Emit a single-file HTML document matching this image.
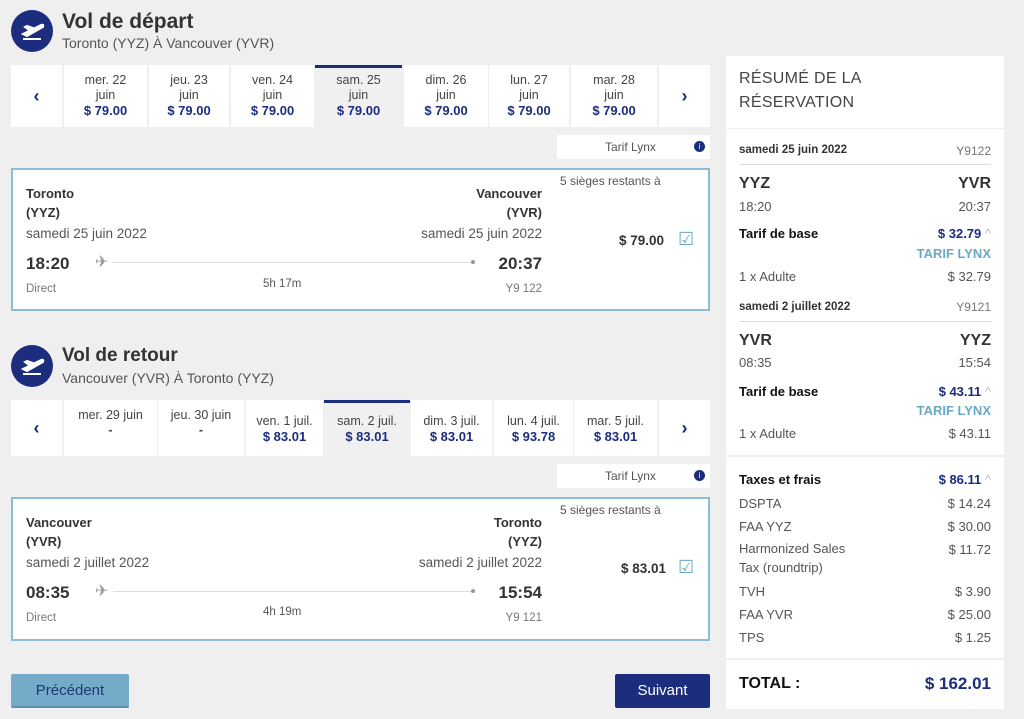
<!DOCTYPE html>
<html><head><meta charset="utf-8"><style>
*{margin:0;padding:0;box-sizing:border-box}
body{width:1024px;height:719px;background:#efefef;font-family:"Liberation Sans",sans-serif;color:#333;position:relative;overflow:hidden}
.a{position:absolute;white-space:nowrap}
.c{position:absolute;background:#fff;text-align:center;font-size:12.5px;color:#444;line-height:15px}
.c.s{background:#f0f0f0;border-top:3px solid #1c2d7e}
.p{color:#1c2d7e;font-weight:bold;font-size:13px}
.nav{position:absolute;background:#fff;color:#1c2d7e;font-size:18px;font-weight:bold;text-align:center}
.card{position:absolute;left:11px;width:699px;background:#fff;border:2px solid #8cbcd6}
.r{text-align:right}
.b{font-weight:bold}
.ic{position:absolute;width:42px;height:42px;border-radius:50%;background:#1c2d7e}
.n{color:#1c2d7e}
.lb{color:#6aa8c8}
.g{color:#555}
</style></head><body>

<div class="ic" style="left:11px;top:10px"><svg width="42" height="42" viewBox="0 0 42 42"><path d="M12 24 L30 15 Q33 14 32 17 L16 26 Z M18 20 L14 17 L16 16 L22 18 Z M12 29 H30" stroke="#fff" stroke-width="2" fill="#fff"/></svg></div>
<div class="a b" style="left:62px;top:10px;font-size:21px;color:#333">Vol de départ</div>
<div class="a" style="left:62px;top:35px;font-size:14px;color:#555">Toronto (YYZ) À Vancouver (YVR)</div>

<div class="nav" style="left:11px;top:65px;width:51px;height:62px;line-height:62px">‹</div>
<div class="c" style="left:64px;top:65px;width:83px;height:62px;padding-top:8px">mer. 22<br>juin<br><span class="p">$ 79.00</span></div>
<div class="c" style="left:149px;top:65px;width:80px;height:62px;padding-top:8px">jeu. 23<br>juin<br><span class="p">$ 79.00</span></div>
<div class="c" style="left:231px;top:65px;width:83px;height:62px;padding-top:8px">ven. 24<br>juin<br><span class="p">$ 79.00</span></div>
<div class="c s" style="left:315px;top:65px;width:87px;height:62px;padding-top:5px">sam. 25<br>juin<br><span class="p">$ 79.00</span></div>
<div class="c" style="left:404px;top:65px;width:84px;height:62px;padding-top:8px">dim. 26<br>juin<br><span class="p">$ 79.00</span></div>
<div class="c" style="left:489px;top:65px;width:80px;height:62px;padding-top:8px">lun. 27<br>juin<br><span class="p">$ 79.00</span></div>
<div class="c" style="left:571px;top:65px;width:86px;height:62px;padding-top:8px">mar. 28<br>juin<br><span class="p">$ 79.00</span></div>
<div class="nav" style="left:659px;top:65px;width:51px;height:62px;line-height:62px">›</div>

<div class="a" style="left:557px;top:135px;width:153px;height:24px;background:#fff;font-size:12px;color:#555;line-height:24px;padding-left:48px">Tarif Lynx<span style="position:absolute;right:5px;top:6px;width:11px;height:11px;border-radius:50%;background:#1c2d7e;color:#fff;font-size:8px;line-height:11px;text-align:center">i</span></div>

<div class="card" style="top:168px;height:143px">
 <div class="a b" style="left:13px;top:14px;font-size:13px;line-height:19px">Toronto<br>(YYZ)</div>
 <div class="a b r" style="right:166px;top:14px;font-size:13px;line-height:19px">Vancouver<br>(YVR)</div>
 <div class="a g" style="left:13px;top:56px;font-size:13.5px">samedi 25 juin 2022</div>
 <div class="a g r" style="right:166px;top:56px;font-size:13.5px">samedi 25 juin 2022</div>
 <div class="a b" style="left:13px;top:84px;font-size:17px">18:20</div>
 <div class="a b r" style="right:166px;top:84px;font-size:17px">20:37</div>
 <div class="a" style="left:82px;top:82px;font-size:16px;color:#999">✈</div>
 <div class="a" style="left:100px;top:92px;width:360px;height:1px;background:#ddd"></div>
 <div class="a" style="left:458px;top:90px;width:4px;height:4px;border-radius:50%;background:#999"></div>
 <div class="a g" style="left:250px;top:108px;font-size:11.5px">5h 17m</div>
 <div class="a g" style="left:13px;top:113px;font-size:11.5px;color:#777">Direct</div>
 <div class="a r" style="right:166px;top:113px;font-size:11.5px;color:#777">Y9 122</div>
 <div class="a g" style="left:547px;top:4px;font-size:12px">5 sièges restants à</div>
 <div class="a b" style="left:606px;top:63px;font-size:13.5px">$ 79.00</div>
 <div class="a lb" style="left:665px;top:59px;font-size:18px">☑</div>
</div>

<div class="ic" style="left:11px;top:345px"><svg width="42" height="42" viewBox="0 0 42 42"><path d="M12 24 L30 15 Q33 14 32 17 L16 26 Z M18 20 L14 17 L16 16 L22 18 Z M12 29 H30" stroke="#fff" stroke-width="2" fill="#fff"/></svg></div>
<div class="a b" style="left:62px;top:345px;font-size:19px;color:#333">Vol de retour</div>
<div class="a" style="left:62px;top:370px;font-size:14px;color:#555">Vancouver (YVR) À Toronto (YYZ)</div>

<div class="nav" style="left:11px;top:400px;width:51px;height:56px;line-height:56px">‹</div>
<div class="c" style="left:64px;top:400px;width:93px;height:56px;padding-top:8px">mer. 29 juin<br><span class="b">-</span></div>
<div class="c" style="left:158px;top:400px;width:86px;height:56px;padding-top:8px">jeu. 30 juin<br><span class="b">-</span></div>
<div class="c" style="left:246px;top:400px;width:77px;height:56px;padding-top:14px">ven. 1 juil.<br><span class="p">$ 83.01</span></div>
<div class="c s" style="left:324px;top:400px;width:86px;height:56px;padding-top:11px">sam. 2 juil.<br><span class="p">$ 83.01</span></div>
<div class="c" style="left:411px;top:400px;width:81px;height:56px;padding-top:14px">dim. 3 juil.<br><span class="p">$ 83.01</span></div>
<div class="c" style="left:494px;top:400px;width:79px;height:56px;padding-top:14px">lun. 4 juil.<br><span class="p">$ 93.78</span></div>
<div class="c" style="left:574px;top:400px;width:83px;height:56px;padding-top:14px">mar. 5 juil.<br><span class="p">$ 83.01</span></div>
<div class="nav" style="left:659px;top:400px;width:51px;height:56px;line-height:56px">›</div>

<div class="a" style="left:557px;top:464px;width:153px;height:24px;background:#fff;font-size:12px;color:#555;line-height:24px;padding-left:48px">Tarif Lynx<span style="position:absolute;right:5px;top:6px;width:11px;height:11px;border-radius:50%;background:#1c2d7e;color:#fff;font-size:8px;line-height:11px;text-align:center">i</span></div>

<div class="card" style="top:497px;height:144px">
 <div class="a b" style="left:13px;top:14px;font-size:13px;line-height:19px">Vancouver<br>(YVR)</div>
 <div class="a b r" style="right:166px;top:14px;font-size:13px;line-height:19px">Toronto<br>(YYZ)</div>
 <div class="a g" style="left:13px;top:56px;font-size:13.5px">samedi 2 juillet 2022</div>
 <div class="a g r" style="right:166px;top:56px;font-size:13.5px">samedi 2 juillet 2022</div>
 <div class="a b" style="left:13px;top:84px;font-size:17px">08:35</div>
 <div class="a b r" style="right:166px;top:84px;font-size:17px">15:54</div>
 <div class="a" style="left:82px;top:82px;font-size:16px;color:#999">✈</div>
 <div class="a" style="left:100px;top:92px;width:360px;height:1px;background:#ddd"></div>
 <div class="a" style="left:458px;top:90px;width:4px;height:4px;border-radius:50%;background:#999"></div>
 <div class="a g" style="left:250px;top:107px;font-size:11.5px">4h 19m</div>
 <div class="a" style="left:13px;top:113px;font-size:11.5px;color:#777">Direct</div>
 <div class="a r" style="right:166px;top:113px;font-size:11.5px;color:#777">Y9 121</div>
 <div class="a g" style="left:547px;top:4px;font-size:12px">5 sièges restants à</div>
 <div class="a b" style="left:608px;top:62px;font-size:13.5px">$ 83.01</div>
 <div class="a lb" style="left:665px;top:58px;font-size:18px">☑</div>
</div>

<div class="a" style="left:11px;top:674px;width:118px;height:34px;background:#75abc9;border-bottom:2px solid #5c8fae;border-radius:2px;color:#1c3a78;font-size:15px;text-align:center;line-height:33px">Précédent</div>
<div class="a" style="left:615px;top:674px;width:95px;height:34px;background:#1c2d7e;border-radius:2px;color:#fff;font-size:15px;text-align:center;line-height:34px">Suivant</div>

<div class="a" style="left:726px;top:56px;width:278px;height:72px;background:#fff"></div>
<div class="a" style="left:739px;top:67px;font-size:16px;color:#444;line-height:24px;letter-spacing:0.3px">RÉSUMÉ DE LA<br>RÉSERVATION</div>
<div class="a" style="left:726px;top:129px;width:278px;height:326px;background:#fff"></div>
<div class="a" style="left:726px;top:457px;width:278px;height:201px;background:#fff"></div>
<div class="a" style="left:726px;top:660px;width:278px;height:49px;background:#fff"></div>

<div class="a b" style="left:739px;top:144px;font-size:11.5px">samedi 25 juin 2022</div>
<div class="a" style="right:33px;top:144px;font-size:12px;color:#777">Y9122</div>
<div class="a" style="left:739px;top:164px;width:252px;height:1px;background:#ddd"></div>
<div class="a b" style="left:739px;top:175px;font-size:16px">YYZ</div>
<div class="a b" style="right:33px;top:175px;font-size:16px">YVR</div>
<div class="a g" style="left:739px;top:199px;font-size:13px">18:20</div>
<div class="a g" style="right:33px;top:199px;font-size:13px">20:37</div>
<div class="a b" style="left:739px;top:226px;font-size:13px;color:#111">Tarif de base</div>
<div class="a b n" style="right:33px;top:226px;font-size:13px">$ 32.79 <span style="color:#bbb;font-weight:normal">^</span></div>
<div class="a b lb" style="right:33px;top:246px;font-size:13px">TARIF LYNX</div>
<div class="a g" style="left:739px;top:269px;font-size:13px">1 x Adulte</div>
<div class="a g" style="right:33px;top:269px;font-size:13px">$ 32.79</div>

<div class="a b" style="left:739px;top:301px;font-size:11.5px">samedi 2 juillet 2022</div>
<div class="a" style="right:33px;top:300px;font-size:12px;color:#777">Y9121</div>
<div class="a" style="left:739px;top:321px;width:252px;height:1px;background:#ddd"></div>
<div class="a b" style="left:739px;top:332px;font-size:16px">YVR</div>
<div class="a b" style="right:33px;top:332px;font-size:16px">YYZ</div>
<div class="a g" style="left:739px;top:355px;font-size:13px">08:35</div>
<div class="a g" style="right:33px;top:355px;font-size:13px">15:54</div>
<div class="a b" style="left:739px;top:384px;font-size:13px;color:#111">Tarif de base</div>
<div class="a b n" style="right:33px;top:384px;font-size:13px">$ 43.11 <span style="color:#bbb;font-weight:normal">^</span></div>
<div class="a b lb" style="right:33px;top:403px;font-size:13px">TARIF LYNX</div>
<div class="a g" style="left:739px;top:426px;font-size:13px">1 x Adulte</div>
<div class="a g" style="right:33px;top:426px;font-size:13px">$ 43.11</div>

<div class="a b" style="left:739px;top:472px;font-size:13px;color:#111">Taxes et frais</div>
<div class="a b n" style="right:33px;top:472px;font-size:13px">$ 86.11 <span style="color:#bbb;font-weight:normal">^</span></div>
<div class="a g" style="left:739px;top:492px;font-size:13px;line-height:23px">DSPTA<br>FAA YYZ</div>
<div class="a g r" style="right:33px;top:492px;font-size:13px;line-height:23px">$ 14.24<br>$ 30.00<br>$ 11.72</div>
<div class="a g" style="left:739px;top:539px;font-size:13px;line-height:19px">Harmonized Sales<br>Tax (roundtrip)</div>
<div class="a g" style="left:739px;top:580px;font-size:13px;line-height:23px">TVH<br>FAA YVR<br>TPS</div>
<div class="a g r" style="right:33px;top:580px;font-size:13px;line-height:23px">$ 3.90<br>$ 25.00<br>$ 1.25</div>

<div class="a b" style="left:739px;top:675px;font-size:16px;color:#111">TOTAL :</div>
<div class="a b n" style="right:33px;top:674px;font-size:17px">$ 162.01</div>
</body></html>
